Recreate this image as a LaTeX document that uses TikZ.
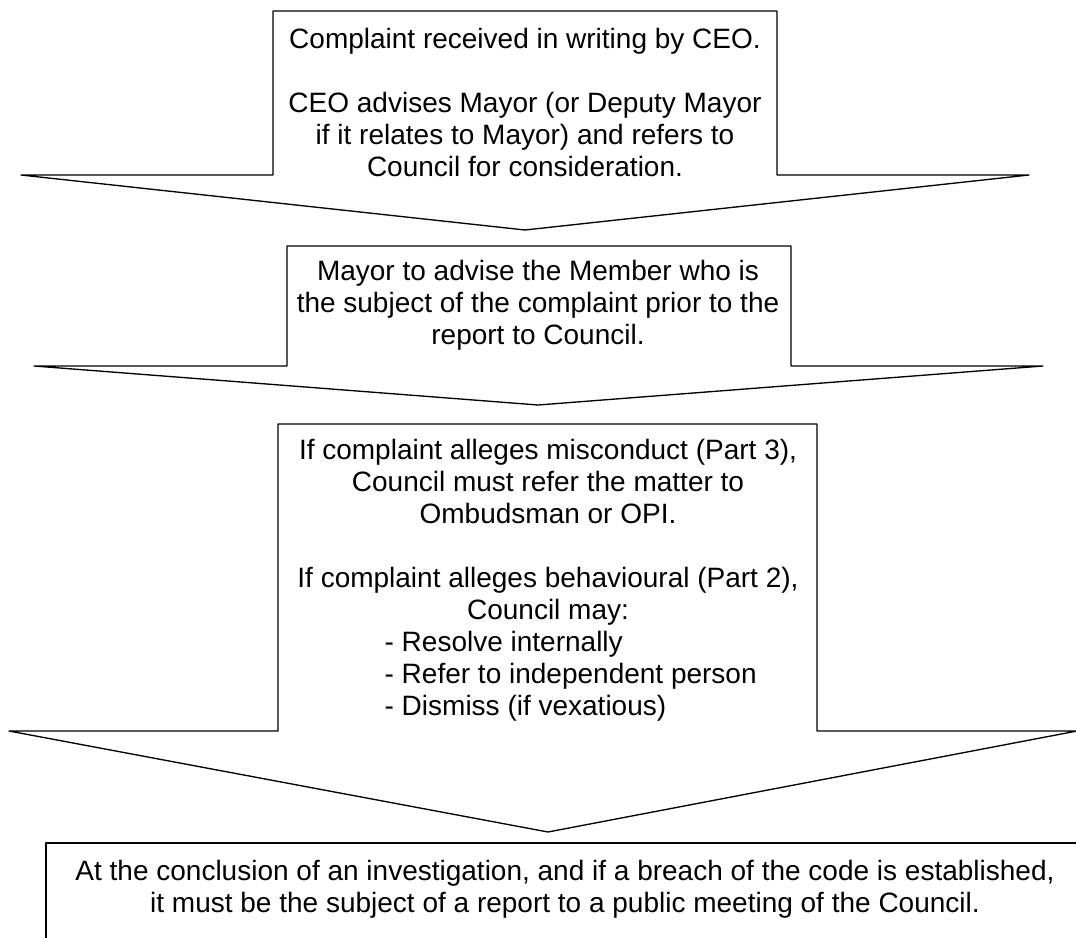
\documentclass[tikz,border=0pt]{standalone}
\usepackage{fontspec}
\setmainfont{Liberation Sans}
\begin{document}
\begin{tikzpicture}[x=0.75pt,y=-0.75pt,line cap=round,line join=round,line width=1pt,
  txt/.style={align=center,inner sep=0pt,font=\fontsize{21}{24}\selectfont},
  lst/.style={align=left,inner sep=0pt,font=\fontsize{21}{24}\selectfont}]
\clip (0,0) rectangle (1076,938);

% first arrow
\draw (273,11)-- (777,11)-- (777,175)-- (1029,175)-- (525,230)-- (21,175)-- (273,175)-- cycle;
% second arrow
\draw (287,246)-- (791,246)-- (791,366)-- (1043,366)-- (538,405)-- (34,366)-- (287,366)-- cycle;
% third arrow
\draw (278,424)-- (817,424)-- (817,731)-- (1077,731)-- (548,832)-- (9,731)-- (278,731)-- cycle;
% last box
\draw (46,950)-- (46,843)-- (1090,843);

\node[txt] (recv) at (525,102) {Complaint received in writing by CEO.\\[24pt]
  CEO advises Mayor (or Deputy Mayor\\ if it relates to Mayor) and refers to\\ Council for consideration.};
\node[txt] (advise) at (538,305) {Mayor to advise the Member who is\\ the subject of the complaint prior to the\\ report to Council.};
\node[txt] (refer) at (548,532) {If complaint alleges misconduct (Part 3),\\ Council must refer the matter to\\ Ombudsman or OPI.\\[24pt]
  If complaint alleges behavioural (Part 2),\\ Council may:};
\node[lst,anchor=west] (opts) at (384,676) {- Resolve internally\\ - Refer to independent person\\ - Dismiss (if vexatious)};
\node[txt] (concl) at (565,889) {At the conclusion of an investigation, and if a breach of the code is established,\\
  it must be the subject of a report to a public meeting of the Council.};
\end{tikzpicture}
\end{document}
